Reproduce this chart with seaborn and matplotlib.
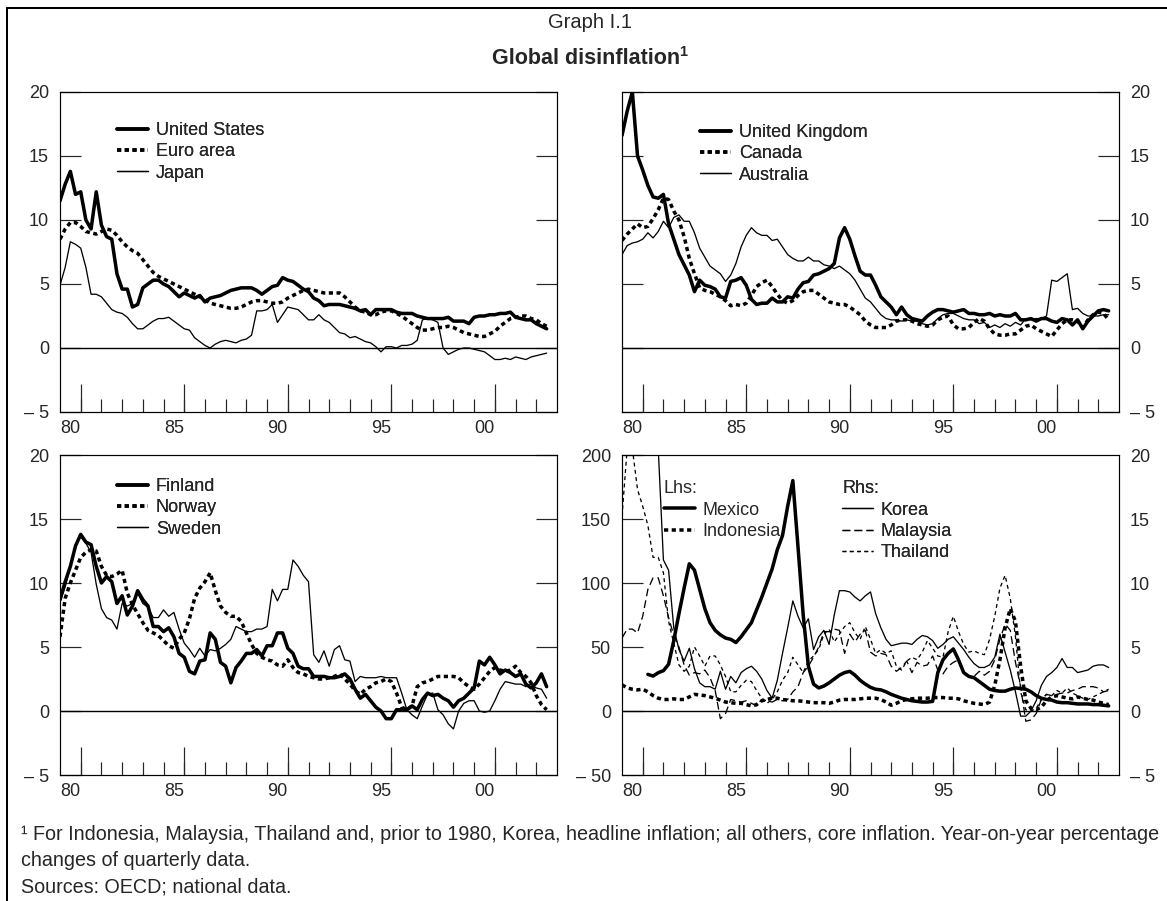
import numpy as np
import matplotlib
matplotlib.use("Agg")
import matplotlib.pyplot as plt
from matplotlib.lines import Line2D
from matplotlib.ticker import FixedLocator, FixedFormatter, NullFormatter
import seaborn as sns

# quarterly observations from 1980 Q1, year-on-year % changes
quarters = 1980 + np.arange(95) / 4

united_states = [
    11.5, 12.8, 13.8, 12.0, 12.2, 10.0, 9.3, 12.2, 9.6, 8.7,
    8.5, 5.8, 4.6, 4.6, 3.2, 3.4, 4.7, 5.0, 5.3, 5.3,
    5.0, 4.8, 4.4, 4.0, 4.3, 4.1, 3.9, 4.1, 3.6, 3.9,
    4.0, 4.1, 4.3, 4.5, 4.6, 4.7, 4.7, 4.7, 4.5, 4.2,
    4.5, 4.8, 4.9, 5.5, 5.3, 5.2, 4.9, 4.6, 4.4, 3.9,
    3.7, 3.3, 3.4, 3.4, 3.4, 3.3, 3.2, 3.1, 2.9, 3.0,
    2.6, 3.0, 3.0, 3.0, 3.0, 2.8, 2.7, 2.7, 2.7, 2.5,
    2.4, 2.3, 2.3, 2.3, 2.3, 2.4, 2.1, 2.1, 2.1, 1.9,
    2.4, 2.5, 2.5, 2.6, 2.6, 2.7, 2.7, 2.8, 2.4, 2.3,
    2.2, 2.2, 1.9, 1.7, 1.5]
euro_area = [
    8.5, 9.3, 9.8, 9.8, 9.5, 9.1, 9.0, 8.9, 9.1, 9.3,
    9.2, 8.8, 8.3, 7.9, 7.6, 7.4, 6.9, 6.4, 5.9, 5.6,
    5.4, 5.2, 5.0, 4.8, 4.6, 4.4, 4.2, 4.0, 3.8, 3.5,
    3.4, 3.3, 3.2, 3.1, 3.1, 3.2, 3.4, 3.6, 3.7, 3.7,
    3.6, 3.5, 3.5, 3.6, 3.9, 4.1, 4.3, 4.5, 4.6, 4.5,
    4.4, 4.3, 4.3, 4.3, 4.3, 4.0, 3.6, 3.2, 2.9, 2.8,
    2.6, 2.6, 2.8, 2.9, 2.9, 2.7, 2.5, 2.2, 1.9, 1.6,
    1.4, 1.4, 1.5, 1.6, 1.6, 1.7, 1.6, 1.4, 1.2, 1.1,
    1.0, 0.9, 0.9, 1.1, 1.3, 1.7, 2.0, 2.3, 2.4, 2.5,
    2.5, 2.3, 2.2, 1.9, 1.7]
japan = [
    4.9, 6.3, 8.3, 8.1, 7.8, 6.3, 4.2, 4.2, 4.0, 3.5,
    3.0, 2.8, 2.7, 2.4, 1.9, 1.5, 1.5, 1.8, 2.1, 2.3,
    2.3, 2.4, 2.1, 1.8, 1.5, 1.4, 0.8, 0.5, 0.2, 0.0,
    0.3, 0.5, 0.6, 0.5, 0.4, 0.6, 0.7, 1.0, 2.9, 2.9,
    3.0, 3.4, 2.0, 2.6, 3.2, 3.1, 3.0, 2.6, 2.2, 2.2,
    2.6, 2.2, 2.0, 1.6, 1.2, 1.1, 0.8, 0.9, 0.7, 0.5,
    0.4, 0.1, -0.3, 0.1, 0.1, 0.0, 0.2, 0.2, 0.3, 0.6,
    2.2, 2.3, 2.2, 2.0, 0.0, -0.5, -0.3, -0.1, 0.0, 0.0,
    -0.1, -0.2, -0.3, -0.6, -0.9, -0.9, -0.8, -0.9, -0.7, -0.8,
    -0.9, -0.7, -0.6, -0.5, -0.4]

united_kingdom = [
    16.6, 18.5, 20.0, 15.0, 13.9, 12.7, 11.8, 11.7, 12.0, 9.7,
    8.5, 7.3, 6.5, 5.7, 4.4, 5.3, 4.9, 4.8, 4.6, 4.0,
    3.9, 5.2, 5.3, 5.5, 4.9, 3.8, 3.4, 3.5, 3.5, 3.9,
    3.6, 3.6, 4.0, 3.9, 4.6, 5.1, 5.2, 5.7, 5.8, 6.0,
    6.2, 6.6, 8.6, 9.4, 8.5, 7.2, 6.0, 5.7, 5.7, 4.9,
    4.0, 3.6, 3.2, 2.6, 3.2, 2.6, 2.3, 2.2, 2.1, 2.5,
    2.8, 3.0, 3.0, 2.9, 2.8, 2.9, 3.0, 2.7, 2.7, 2.6,
    2.6, 2.7, 2.5, 2.6, 2.5, 2.5, 2.7, 2.2, 2.2, 2.3,
    2.1, 2.3, 2.3, 2.1, 2.0, 2.3, 2.2, 1.8, 2.2, 1.5,
    2.1, 2.5, 2.9, 3.0, 2.9]
canada = [
    8.4, 8.9, 9.3, 9.7, 9.4, 9.5, 10.1, 10.8, 11.7, 11.6,
    10.7, 10.0, 8.7, 7.0, 5.8, 4.7, 4.5, 4.4, 4.2, 4.0,
    3.7, 3.3, 3.4, 3.3, 3.5, 4.1, 4.8, 5.1, 5.3, 4.8,
    4.2, 3.7, 3.5, 3.7, 4.1, 4.4, 4.5, 4.5, 4.2, 3.9,
    3.6, 3.5, 3.4, 3.4, 3.2, 2.9, 2.6, 2.1, 1.8, 1.6,
    1.6, 1.6, 1.8, 2.1, 2.2, 2.2, 2.1, 1.9, 1.8, 1.7,
    1.8, 2.2, 2.4, 2.5, 1.8, 1.5, 1.5, 1.6, 2.0, 2.3,
    2.1, 1.5, 1.1, 1.0, 1.0, 1.1, 1.1, 1.4, 1.7, 1.8,
    1.5, 1.3, 1.1, 0.9, 1.4, 1.9, 2.2, 2.2, 2.1, 1.6,
    2.2, 2.6, 2.8, 2.7, 2.2]
australia = [
    7.3, 8.0, 8.2, 8.3, 8.5, 9.0, 8.6, 9.1, 9.9, 9.4,
    10.2, 10.4, 9.9, 9.9, 9.0, 7.8, 7.1, 6.4, 6.1, 5.8,
    5.2, 5.7, 6.6, 7.9, 8.8, 9.4, 9.0, 8.8, 8.8, 8.4,
    8.5, 7.9, 7.3, 7.0, 6.8, 6.8, 7.1, 6.8, 6.8, 6.5,
    6.4, 6.2, 6.4, 6.1, 5.8, 5.3, 4.6, 3.9, 3.6, 3.1,
    2.6, 2.3, 2.2, 2.2, 2.1, 2.2, 2.1, 2.1, 1.9, 1.8,
    1.9, 2.3, 2.6, 2.7, 2.7, 2.5, 2.3, 2.2, 2.2, 1.9,
    2.0, 1.6, 1.8, 1.6, 1.9, 1.7, 2.0, 1.8, 2.3, 2.2,
    2.3, 2.3, 2.5, 5.3, 5.2, 5.5, 5.8, 3.0, 3.1, 2.7,
    2.5, 2.5, 2.5, 2.6, 2.6]

finland = [
    8.7, 10.1, 11.3, 12.9, 13.8, 13.2, 13.0, 11.3, 10.0, 10.5,
    10.1, 8.4, 9.0, 7.5, 8.2, 9.4, 8.7, 8.2, 6.6, 6.6,
    6.2, 6.5, 5.8, 4.5, 4.2, 3.1, 2.9, 3.9, 4.0, 6.1,
    5.6, 3.8, 3.5, 2.2, 3.4, 3.9, 4.5, 4.5, 4.8, 4.3,
    5.1, 5.1, 6.1, 6.1, 4.9, 4.5, 3.5, 3.3, 3.3, 2.7,
    2.7, 2.7, 2.6, 2.6, 2.7, 2.9, 2.5, 1.7, 1.0, 1.3,
    0.8, 0.3, 0.0, -0.6, -0.6, 0.1, 0.1, 0.1, 0.4, 0.1,
    0.9, 1.4, 1.2, 1.3, 1.0, 0.8, 0.3, 0.8, 1.0, 1.4,
    1.8, 3.9, 3.6, 4.2, 3.6, 2.9, 3.2, 3.0, 2.7, 2.9,
    2.1, 1.8, 2.2, 2.9, 1.9]
norway = [
    5.8, 8.8, 10.0, 11.0, 12.0, 12.4, 12.6, 12.5, 11.3, 10.6,
    10.5, 10.7, 11.0, 9.2, 8.3, 7.6, 6.9, 6.3, 6.1, 5.9,
    5.5, 5.1, 4.9, 5.6, 6.1, 7.2, 8.8, 9.6, 10.1, 10.8,
    9.4, 8.2, 7.7, 7.4, 7.4, 7.0, 6.1, 5.2, 4.5, 4.2,
    4.0, 3.9, 3.6, 3.5, 4.0, 3.4, 3.0, 2.9, 2.7, 2.6,
    2.5, 2.5, 2.6, 2.7, 2.9, 2.5, 2.1, 1.6, 1.3, 1.7,
    1.9, 2.2, 2.3, 2.5, 2.3, 1.4, 0.3, 0.1, 0.4, 1.9,
    2.2, 2.3, 2.5, 2.7, 2.7, 2.7, 2.7, 2.6, 2.2, 1.9,
    1.7, 2.1, 2.6, 3.1, 3.4, 3.2, 3.1, 3.2, 3.5, 3.0,
    2.7, 2.2, 1.2, 0.5, 0.1]
sweden = [
    8.5, 9.7, 11.3, 13.0, 13.6, 13.1, 12.4, 9.9, 8.0, 7.3,
    7.1, 6.4, 8.4, 8.2, 8.4, 9.2, 8.4, 8.1, 7.3, 7.3,
    7.9, 7.4, 7.7, 6.4, 5.3, 4.8, 4.2, 4.9, 4.3, 4.8,
    4.7, 4.9, 5.2, 5.6, 6.6, 6.4, 6.2, 6.2, 6.4, 6.4,
    6.6, 9.5, 8.6, 9.5, 9.5, 11.8, 11.3, 10.6, 10.1, 4.4,
    3.8, 4.7, 3.5, 4.8, 5.1, 4.0, 3.9, 2.3, 2.7, 2.6,
    2.6, 2.6, 2.7, 2.6, 2.6, 2.6, 1.4, 0.1, -0.3, -0.6,
    0.4, 1.3, 1.4, 0.1, -0.3, -1.0, -1.4, 0.0, 0.6, 0.8,
    0.8, 0.0, -0.1, 0.0, 0.8, 1.7, 2.3, 2.2, 2.1, 2.1,
    1.9, 2.1, 1.8, 1.7, 1.0]

# left-hand scale; Mexico starts in 1981 Q2
mexico = [
    28.6, 27.3, 29.9, 31.5, 36.5, 55, 76, 96, 115, 110,
    95, 80, 69, 63, 59.5, 57, 56, 53.5, 58, 63.5,
    69, 79, 89, 100, 111, 126, 137, 160, 180, 128,
    75, 35, 21, 18, 19.5, 22, 25, 28, 30, 31,
    28, 24, 21, 18.5, 17, 16.5, 15, 13, 11.5, 10,
    9, 8, 7.5, 7, 7, 7.5, 30, 40, 45, 48.5,
    40, 30, 27, 26, 23, 20, 17, 16, 15.5, 15.5,
    17, 18, 17.5, 17, 15, 12, 10, 9, 8.5, 7,
    6.5, 6.5, 6, 5.5, 5.5, 5.5, 5, 5, 4.5, 4]
indonesia = [
    20.5, 18, 17, 16.5, 17, 15, 12, 10, 9, 9,
    9.5, 9, 9, 11, 13, 12.5, 12, 11, 10, 8.5,
    7, 6.5, 6, 6, 5, 4, 5, 8, 9, 10,
    10, 9, 8.5, 8, 8, 7.5, 7, 6.5, 6.5, 6.5,
    6, 7, 8.5, 9, 9, 9, 9.5, 10, 10, 10,
    9, 7, 4.5, 6, 8, 9, 9.5, 10, 10, 10,
    10.5, 10.5, 10.5, 10, 10, 9.5, 8, 7, 6, 5.5,
    5, 7, 20, 40, 65, 80, 70, 35, 8, 2,
    1, 3, 8, 11, 12, 11, 10, 9.5, 11, 10,
    9, 8.5, 7, 6, 5]
# right-hand scale
korea = [
    24, 27, 29, 30, 28, 26, 23, 20.5, 11.8, 11.0,
    6.5, 4.8, 3.9, 4.9, 3.3, 2.2, 1.9, 1.9, 1.7, 3.1,
    1.7, 2.7, 2.2, 3.0, 3.3, 3.5, 3.1, 2.5, 1.6, 1.0,
    2.4, 4.5, 6.5, 8.6, 7.4, 6.5, 7.2, 4.8, 5.8, 6.3,
    5.2, 7.5, 9.4, 9.4, 9.3, 8.9, 8.6, 9.0, 9.3, 7.6,
    6.5, 5.6, 5.1, 5.2, 5.3, 5.3, 5.2, 5.6, 5.9, 5.8,
    5.5, 4.9, 5.2, 5.6, 5.8, 5.3, 4.8, 4.2, 3.7, 3.4,
    3.4, 3.6, 4.2, 6.0, 4.6, 3.2, 1.5, -0.4, -0.4, 0.0,
    0.8, 2.0, 2.7, 3.0, 3.4, 4.1, 3.4, 3.4, 3.0, 3.1,
    3.2, 3.5, 3.6, 3.6, 3.4]
malaysia = [
    5.7, 6.4, 6.4, 6.1, 7.4, 9.5, 10.4, 10.4, 9.0, 7.3,
    5.9, 5.0, 3.6, 2.8, 3.0, 2.9, 3.2, 2.6, 1.6, -0.6,
    -0.2, 0.9, 0.8, 0.7, 0.8, 0.6, 0.4, 0.9, 0.8, 0.7,
    0.9, 0.8, 0.9, 1.5, 1.9, 3.0, 3.5, 4.2, 5.0, 6.2,
    6.2, 6.4, 6.3, 4.5, 6.0, 5.4, 6.0, 6.3, 4.6, 4.3,
    4.5, 4.4, 3.5, 3.1, 3.4, 3.9, 3.0, 3.8, 3.5, 3.6,
    4.3, 3.2, 2.9, 3.5, 3.8, 4.0, 3.0, 2.7, 2.7, 3.1,
    2.8, 3.1, 4.0, 5.6, 6.8, 6.3, 3.8, 1.9, -0.8, -0.7,
    -0.2, 0.9, 1.3, 1.2, 1.3, 1.4, 1.4, 1.6, 1.7, 1.9,
    1.9, 1.9, 1.8, 1.5, 1.6]
thailand = [
    15.2, 20.5, 20.5, 17.3, 16.0, 14.5, 12.0, 12.0, 10.8, 7.0,
    5.3, 3.6, 3.1, 3.5, 5.0, 4.3, 3.5, 4.3, 4.3, 3.6,
    2.7, 1.5, 1.5, 2.0, 2.4, 2.3, 1.6, 1.0, 0.6, 0.9,
    1.5, 2.4, 3.0, 4.2, 3.6, 3.0, 3.9, 4.3, 4.8, 6.0,
    6.4, 5.4, 6.0, 6.6, 6.9, 6.1, 5.6, 6.6, 5.6, 4.5,
    4.8, 4.5, 4.7, 3.5, 3.2, 3.9, 4.2, 4.0, 4.6, 5.5,
    4.9, 4.3, 4.2, 6.2, 7.4, 6.2, 5.2, 4.6, 4.7, 4.5,
    4.4, 5.6, 7.4, 9.6, 10.6, 8.8, 5.8, 1.5, 0.1, 0.0,
    0.2, 0.9, 1.3, 1.2, 1.6, 1.4, 1.8, 1.4, 1.2, 1.0,
    0.9, 1.1, 1.3, 1.5, 1.7]

label_years = [1980, 1985, 1990, 1995, 2000]
year_labels = ["80", "85", "90", "95", "00"]
pct_ticks = [-5, 0, 5, 10, 15, 20]
pct_labels = ["– 5", "0", "5", "10", "15", "20"]
lhs_ticks = [-50, 0, 50, 100, 150, 200]
lhs_labels = ["– 50", "0", "50", "100", "150", "200"]

W, H = 1167, 901
PX = 0.72  # points per pixel at 100 dpi
FS = 13

sns.set_style("white")
plt.rcParams["font.family"] = ["Liberation Sans", "DejaVu Sans"]

thick = dict(color="black", linewidth=3.5 * PX, linestyle="-")
thick_dot = dict(color="black", linewidth=3.5 * PX, linestyle=(0, (1.2, 1.0)))
thin = dict(color="black", linewidth=1.3 * PX, linestyle="-")
long_dash = dict(color="black", linewidth=1.3 * PX, linestyle=(0, (6.0, 3.2)))
short_dash = dict(color="black", linewidth=1.3 * PX, linestyle=(0, (3.0, 2.6)))


def panel(fig, left, top):
    return fig.add_axes([left / W, 1 - (top + 320) / H, 497 / W, 320 / H])


def draw(ax, values, style):
    y = np.asarray(values, dtype=float)
    x = quarters[len(quarters) - len(y):]
    sns.lineplot(x=x, y=y, ax=ax, **style)
    return ax.lines[-1]


def style_axes(ax, ticks, labels, side):
    ax.set_xlim(1980, 2004)
    ax.set_ylim(ticks[0], ticks[-1])
    ax.set_xlabel("")
    ax.set_ylabel("")
    ax.yaxis.set_major_locator(FixedLocator(ticks))
    ax.yaxis.set_major_formatter(FixedFormatter(labels))
    ax.tick_params(axis="y", direction="in", length=21 * PX, width=1.2 * PX,
                   left=True, right=True, labelleft=side == "left",
                   labelright=side == "right", labelsize=FS, pad=8)
    ax.xaxis.set_major_locator(FixedLocator(range(1981, 2004)))
    ax.xaxis.set_major_formatter(NullFormatter())
    ax.xaxis.set_minor_locator(FixedLocator([y + 0.5 for y in label_years]))
    ax.xaxis.set_minor_formatter(FixedFormatter(year_labels))
    ax.tick_params(axis="x", which="major", direction="in", length=13 * PX,
                   width=1.2 * PX, bottom=True, top=False)
    ax.tick_params(axis="x", which="minor", length=0, labelsize=FS, pad=6,
                   bottom=True, top=False, labelbottom=True)
    long_ticks = ax.secondary_xaxis("bottom")
    long_ticks.xaxis.set_major_locator(FixedLocator([y + 1 for y in label_years]))
    long_ticks.tick_params(direction="in", length=28 * PX, width=1.2 * PX,
                           labelbottom=False)
    long_ticks.spines["bottom"].set_visible(False)
    ax.axhline(0, color="black", linewidth=1.4 * PX, zorder=1)
    for spine in ax.spines.values():
        spine.set_visible(True)
        spine.set_color("black")
        spine.set_linewidth(1.2 * PX)


def add_legend(ax, handles, labels, x, y, title=None):
    leg = ax.legend(handles, labels, loc="upper left", bbox_to_anchor=(x, y),
                    frameon=False, fontsize=FS, handlelength=1.7,
                    handletextpad=0.45, labelspacing=0.24, borderpad=0,
                    borderaxespad=0, title=title, title_fontsize=FS,
                    alignment="left")
    ax.add_artist(leg)


fig = plt.figure(figsize=(W / 100, H / 100), dpi=100)

# top left: United States, euro area, Japan
ax = panel(fig, 60, 92)
h = [draw(ax, united_states, thick), draw(ax, euro_area, thick_dot), draw(ax, japan, thin)]
style_axes(ax, pct_ticks, pct_labels, "left")
add_legend(ax, h, ["United States", "Euro area", "Japan"], 0.115, 0.906)

# top right: United Kingdom, Canada, Australia
ax = panel(fig, 622, 92)
h = [draw(ax, united_kingdom, thick), draw(ax, canada, thick_dot), draw(ax, australia, thin)]
style_axes(ax, pct_ticks, pct_labels, "right")
add_legend(ax, h, ["United Kingdom", "Canada", "Australia"], 0.157, 0.9)

# bottom left: Finland, Norway, Sweden
ax = panel(fig, 60, 455)
h = [draw(ax, finland, thick), draw(ax, norway, thick_dot), draw(ax, sweden, thin)]
style_axes(ax, pct_ticks, pct_labels, "left")
add_legend(ax, h, ["Finland", "Norway", "Sweden"], 0.115, 0.928)

# bottom right: emerging economies on two scales
ax = panel(fig, 622, 455)
lhs = [draw(ax, mexico, thick), draw(ax, indonesia, thick_dot)]
style_axes(ax, lhs_ticks, lhs_labels, "left")
ax2 = ax.twinx()
rhs = [draw(ax2, korea, thin), draw(ax2, malaysia, long_dash), draw(ax2, thailand, short_dash)]
ax2.set_ylim(pct_ticks[0], pct_ticks[-1])
ax2.set_ylabel("")
ax2.yaxis.set_major_locator(FixedLocator(pct_ticks))
ax2.yaxis.set_major_formatter(FixedFormatter(pct_labels))
ax2.tick_params(axis="y", direction="in", length=0, left=False, right=True,
                labelleft=False, labelright=True, labelsize=FS, pad=8)
for spine in ax2.spines.values():
    spine.set_visible(False)
add_legend(ax2, lhs, ["Mexico", "Indonesia"], 0.0845, 0.921, title="Lhs:")
add_legend(ax2, rhs, ["Korea", "Malaysia", "Thailand"], 0.4427, 0.921, title="Rhs:")

# frame, titles and notes
fig.add_artist(Line2D([7 / W, 1], [1 - 8 / H] * 2, transform=fig.transFigure,
                      color="black", linewidth=2 * PX))
fig.add_artist(Line2D([7 / W] * 2, [0, 1 - 8 / H], transform=fig.transFigure,
                      color="black", linewidth=2 * PX))
fig.text(590 / W, 1 - 22 / H, "Graph I.1", ha="center", va="center", fontsize=14.5)
title = fig.text(586 / W, 1 - 58 / H, "Global disinflation", ha="center",
                 va="center", fontsize=15.5, fontweight="bold")
bb = title.get_window_extent(fig.canvas.get_renderer())
fig.text((bb.x1 - 0.5) / W, (bb.y1 + 3) / H, "1", ha="left", va="top",
         fontsize=10.5, fontweight="bold")
notes = [
    "¹ For Indonesia, Malaysia, Thailand and, prior to 1980, Korea, headline inflation; "
    "all others, core inflation. Year-on-year percentage",
    "changes of quarterly data.",
    "Sources: OECD; national data.",
]
for i, line in enumerate(notes):
    fig.text(21 / W, 1 - (835 + 26 * i) / H, line, ha="left", va="center", fontsize=14.2)

fig.savefig("out.png", dpi=100)
